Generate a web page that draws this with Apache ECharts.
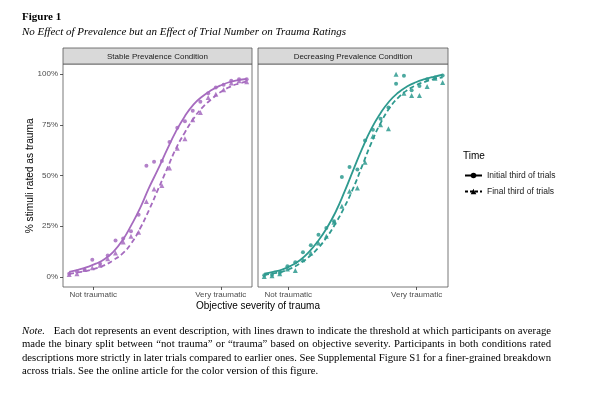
<!DOCTYPE html>
<html>
<head>
<meta charset="utf-8">
<script src="https://cdn.jsdelivr.net/npm/echarts@6/dist/echarts.min.js"></script>
<style>
html,body{margin:0;padding:0;background:#fff;}
#c{width:616px;height:394px;}
</style>
</head>
<body>
<div id="c"></div>
<script>
// ---------- data ----------
const panelTitles = ['Stable Prevalence Condition', 'Decreasing Prevalence Condition'];
const timeLabels = ['Initial third of trials', 'Final third of trials'];
const yTickValues = [0, 25, 50, 75, 100];
const xTickValues = [13.5, 85.4];
const xTickLabels = ['Not traumatic', 'Very traumatic'];

// objective severity of each event description (relative scale 0-100)
const severity = [0,4.35,8.7,13,17.4,21.7,26.1,30.4,34.8,39.1,43.5,47.8,52.2,56.5,60.9,65.2,69.6,73.9,78.3,82.6,87,91.3,95.7,100];

// % rated as trauma
const stableInitial = [1.5,2.6,3.5,8.5,6.5,10.5,17.9,18.9,22.5,30.7,54.8,56.8,57.1,66.5,73.5,76.7,81.9,86.4,90.6,93.4,94.8,96.7,97.5,97.5];
const stableFinal   = [1.2,1.5,3.6,4.5,5.7,8.9,11.8,17.2,20,22,37.2,43.3,45.1,53.7,63.5,68.1,77.5,81.1,88.5,90.1,92.3,95.6,96.7,96.2];
const decInitial    = [0.8,1.1,2,5.2,7.2,12.1,15.6,20.8,24.1,27.4,49.3,54.2,52.9,67.3,72.6,78,83.5,95.2,99.2,92,94.2,97.5,98.3,99.3];
const decFinal      = [0.2,0.5,1.5,3.9,3.1,8.5,11.8,16.7,20,26.9,34.8,42.2,43.8,56.5,69.3,75,73,100,90.6,89.5,89.5,93.9,98,95.9];

// fitted threshold curves
const curveX = [0,5,10,15,20,25,30,35,40,45,50,55,60,65,70,75,80,85,90,95,100];
const stableInitialCurve = [2.5,3.5,4.8,6.5,8.8,12.5,18,25.5,34,44,53,62.5,71.5,79,85,89,92,94.3,96,97,97.6];
const stableFinalCurve   = [1.5,2.2,3,4.2,5.8,8.3,11.5,16.5,24,33,43,53,63,71,78,83.5,87.5,91,93.5,95.2,96.3];
const decInitialCurve    = [1.6,2.5,3.6,5.5,8.2,12.2,17.5,24,32,42,52.9,63.5,73,80.5,86.5,90.8,93.9,96,97.5,98.7,99.7];
const decFinalCurve      = [1,1.7,2.5,4.2,6.6,9.8,14,19.5,26.4,34.5,44,55,66,75.5,83,88.3,92,94.5,96.2,97.5,98.4];

const noteLines = [
  ['Note.', 'Each dot represents an event description, with lines drawn to indicate the threshold at which participants on average'],
  ['', 'made the binary split between \u201cnot trauma\u201d or \u201ctrauma\u201d based on objective severity. Participants in both conditions rated'],
  ['', 'descriptions more strictly in later trials compared to earlier ones. See Supplemental Figure S1 for a finer-grained breakdown'],
  ['', 'across trials. See the online article for the color version of this figure.']
];

// ---------- chart ----------
const purple = '#a66bbf';
const teal = '#2e9a8f';
const zip = (xs, ys) => xs.map((x, i) => [x, ys[i]]);

const chart = echarts.init(document.getElementById('c'), null, {renderer: 'canvas'});

const gridDefs = [{left: 63, top: 64, width: 189, height: 223}, {left: 258, top: 64, width: 190, height: 223}];
const sans = 'Liberation Sans, Arial, sans-serif';
const serif = 'Liberation Serif, Times New Roman, serif';

function xAxis(i) {
  return {
    gridIndex: i, type: 'value', min: -3.5, max: 103,
    axisLine: {show: false, onZero: false}, splitLine: {show: false},
    axisTick: {show: true, length: 3, customValues: xTickValues, lineStyle: {color: '#333', width: 0.8}},
    axisLabel: {show: true, customValues: xTickValues, color: '#4d4d4d', fontSize: 8, fontFamily: sans, margin: 4,
      formatter: v => xTickLabels[xTickValues.indexOf(v)] || ''}
  };
}
function yAxis(i) {
  return {
    gridIndex: i, type: 'value', min: -5, max: 105,
    axisLine: {show: false, onZero: false}, splitLine: {show: false},
    axisTick: {show: i === 0, length: 3, customValues: yTickValues, lineStyle: {color: '#333', width: 0.8}},
    axisLabel: {show: i === 0, customValues: yTickValues, color: '#4d4d4d', fontSize: 8, fontFamily: sans, margin: 5,
      formatter: v => v + '%'}
  };
}

function panelSeries(i, color, ini, fin, iniC, finC) {
  return [
    {name: timeLabels[0], type: 'line', xAxisIndex: i, yAxisIndex: i, data: zip(curveX, iniC), smooth: 0.5,
      symbol: 'circle', symbolSize: 4, showSymbol: false, lineStyle: {color: color, width: 1.8, type: 'solid'}, itemStyle: {color: color}, z: 3},
    {name: timeLabels[1], type: 'line', xAxisIndex: i, yAxisIndex: i, data: zip(curveX, finC), smooth: 0.5,
      symbol: 'triangle', symbolSize: 5, showSymbol: false, lineStyle: {color: color, width: 1.8, type: [5, 3]}, itemStyle: {color: color}, z: 3},
    {name: timeLabels[0], type: 'scatter', xAxisIndex: i, yAxisIndex: i, data: zip(severity, ini),
      symbol: 'circle', symbolSize: 4, itemStyle: {color: color, opacity: 0.85}, z: 4},
    {name: timeLabels[1], type: 'scatter', xAxisIndex: i, yAxisIndex: i, data: zip(severity, fin),
      symbol: 'triangle', symbolSize: 5, itemStyle: {color: color, opacity: 0.85}, z: 4}
  ];
}

const graphics = [];
gridDefs.forEach((g, i) => {
  graphics.push({type: 'rect', shape: {x: g.left, y: 48, width: g.width, height: 16},
    style: {fill: '#d9d9d9', stroke: '#555', lineWidth: 0.8}, z: 10});
  graphics.push({type: 'text', x: g.left + g.width / 2, y: 56.5,
    style: {text: panelTitles[i], fill: '#1a1a1a', font: '8px ' + sans, textAlign: 'center', textVerticalAlign: 'middle'}, z: 11});
});
graphics.push({type: 'text', x: 22, y: 17, style: {text: 'Figure 1', fill: '#000', font: 'bold 11px ' + serif, textVerticalAlign: 'middle'}});
graphics.push({type: 'text', x: 22, y: 32.5, style: {text: 'No Effect of Prevalence but an Effect of Trial Number on Trauma Ratings', fill: '#000', font: 'italic 11px ' + serif, textVerticalAlign: 'middle'}});
graphics.push({type: 'text', x: 30, y: 175.8, rotation: Math.PI / 2,
  style: {text: '% stimuli rated as trauma', fill: '#000', font: '10.2px ' + sans, textAlign: 'center', textVerticalAlign: 'middle'}});
graphics.push({type: 'text', x: 258, y: 306.5,
  style: {text: 'Objective severity of trauma', fill: '#000', font: '10px ' + sans, textAlign: 'center', textVerticalAlign: 'middle'}});
graphics.push({type: 'text', x: 463, y: 156,
  style: {text: 'Time', fill: '#000', font: '10px ' + sans, textVerticalAlign: 'middle'}});

// justified note paragraph (word layout measured with canvas)
const noteFont = '10.7px ' + serif;
const noteItalic = 'italic 10.7px ' + serif;
const noteLeft = 22, noteRight = 551;
const noteY = [330.7, 344.2, 357.7, 371.2];
const mctx = document.createElement('canvas').getContext('2d');
noteLines.forEach((ln, k) => {
  const words = ln[1].split(' ');
  let startX = noteLeft;
  if (ln[0]) {
    mctx.font = noteItalic;
    graphics.push({type: 'text', x: startX, y: noteY[k], style: {text: ln[0], fill: '#000', font: noteItalic, textVerticalAlign: 'middle'}});
    startX += mctx.measureText(ln[0]).width + 9;
  }
  mctx.font = noteFont;
  const widths = words.map(w => mctx.measureText(w).width);
  const total = widths.reduce((a, b) => a + b, 0);
  const justify = k < noteLines.length - 1;
  const gap = justify ? (noteRight - startX - total) / (words.length - 1) : mctx.measureText(' ').width;
  let x = startX;
  words.forEach((w, j) => {
    graphics.push({type: 'text', x: x, y: noteY[k], style: {text: w, fill: '#000', font: noteFont, textVerticalAlign: 'middle'}});
    x += widths[j] + gap;
  });
});

chart.setOption({
  animation: false,
  backgroundColor: '#fff',
  grid: gridDefs.map(g => Object.assign({show: true, borderColor: '#555', borderWidth: 0.8, backgroundColor: '#fff'}, g)),
  xAxis: [xAxis(0), xAxis(1)],
  yAxis: [yAxis(0), yAxis(1)],
  legend: {
    orient: 'vertical', left: 464, top: 171, padding: 0, itemWidth: 17, itemHeight: 7, itemGap: 7,
    textStyle: {fontSize: 8.5, fontFamily: sans, color: '#1a1a1a'},
    data: [
      {name: timeLabels[0], itemStyle: {color: '#000'}, lineStyle: {color: '#000', type: 'solid'}},
      {name: timeLabels[1], itemStyle: {color: '#000'}, lineStyle: {color: '#000', type: [3, 2]}}
    ],
    selectedMode: false
  },
  series: [].concat(
    panelSeries(0, purple, stableInitial, stableFinal, stableInitialCurve, stableFinalCurve),
    panelSeries(1, teal, decInitial, decFinal, decInitialCurve, decFinalCurve)
  ),
  graphic: graphics
});
</script>
</body>
</html>
